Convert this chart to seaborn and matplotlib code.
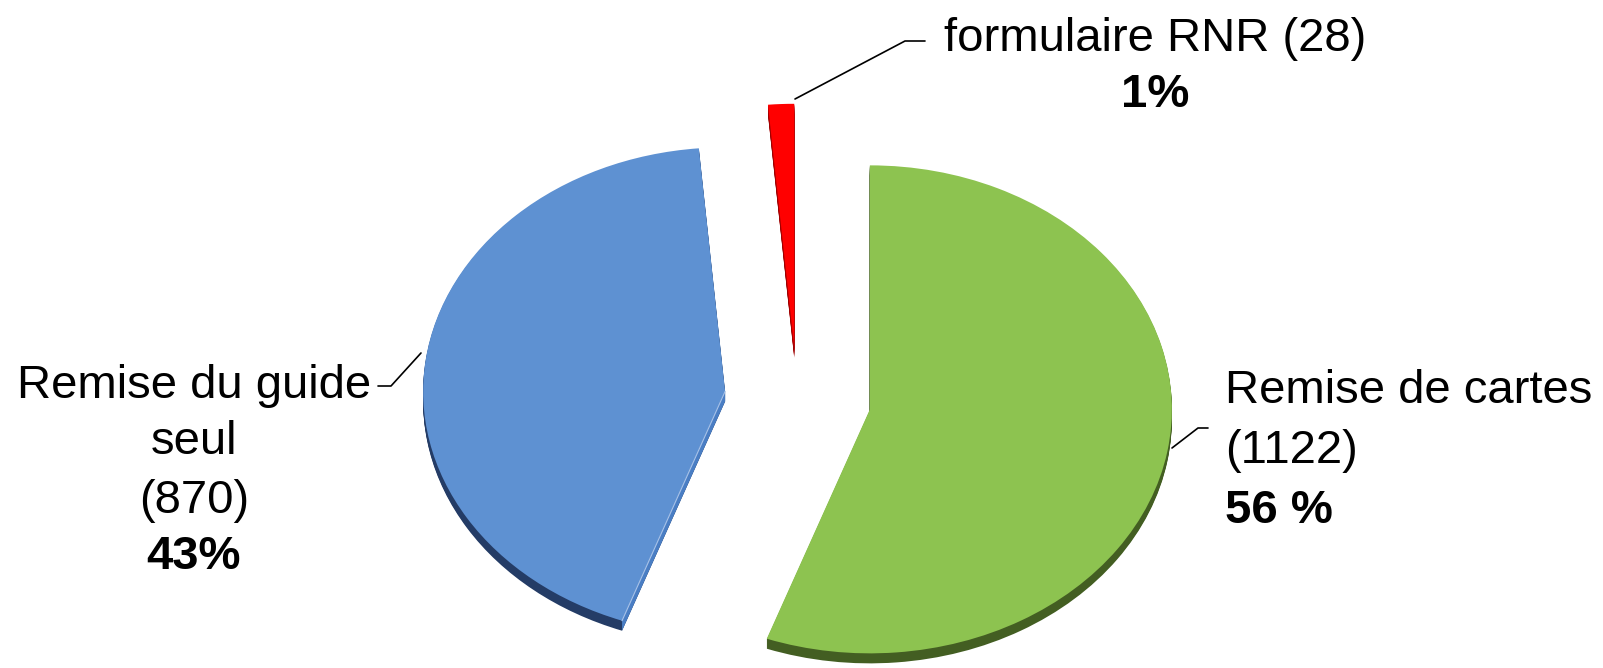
import numpy as np
import pandas as pd
import matplotlib
matplotlib.use('Agg')
import matplotlib.pyplot as plt
from matplotlib.patches import Polygon
import seaborn as sns

# ---- data ----
categories = ['Remise de cartes', 'Remise du guide seul', 'formulaire RNR']
counts = [1122, 870, 28]
count_labels = ['(1122)', '(870)', '(28)']
pct_labels = ['56 %', '43%', '1%']

# ---- style ----
colors = ['#8DC350', '#5E91D2', '#FF0000']
depth_colors = ['#435E22', '#243C66', '#A00000']
face_colors = ['#6E9A3A', '#4A7EC4', '#C00000']
explode = [0.245, 0.24, 0.21]

sns.set_theme(style='white')
plt.rcParams['font.family'] = ['Liberation Sans', 'DejaVu Sans']
plt.rcParams['text.color'] = 'black'

W, H = 1603, 668
RX, RY = 302, 244
fig = plt.figure(figsize=(W / 100, H / 100), dpi=100)
ax = fig.add_axes([0, 0, 1, 1])


def to_data(x, y):
    return x / RX, (H - y) / RY


cx, cy = to_data(797, 399)
depth_px = 10
for k in range(depth_px, 0, -1):
    ax.pie(counts, explode=explode, colors=depth_colors, startangle=90,
           counterclock=False, center=(cx, cy - k / RY), radius=1,
           wedgeprops=dict(linewidth=0))

top_wedges, _ = ax.pie(counts, explode=explode, colors=colors, startangle=90,
                       counterclock=False, center=(cx, cy), radius=1,
                       wedgeprops=dict(linewidth=0, zorder=3))

# visible cut face of the blue slice (its clockwise end edge)
w = top_wedges[1]
c = np.array(w.center)
ang = np.deg2rad(w.theta2 if abs(((w.theta2 + 180) % 360) - 180 + 110) < 5 else w.theta1)
e = c + w.r * np.array([np.cos(ang), np.sin(ang)])
d = np.array([0, depth_px / RY])
ax.add_patch(Polygon([c, e, e - d, c - d], closed=True, facecolor=face_colors[1],
                     edgecolor='none', zorder=2))
ax.plot([c[0], e[0]], [c[1], e[1]], color='#A9C4EA', lw=0.8, zorder=4)

ax.set_aspect('auto')
ax.set_xlim(0, W / RX)
ax.set_ylim(0, H / RY)
ax.axis('off')

fs = 34
# top label (formulaire RNR)
ax.text(*to_data(1155, 39), f'{categories[2]} {count_labels[2]}', ha='center',
        va='center', fontsize=fs, color='black')
ax.text(*to_data(1155, 95), pct_labels[2], ha='center', va='center',
        fontsize=fs, fontweight='bold', color='black')
# left label
left_lines = ['Remise du guide', 'seul', count_labels[1]]
for t, y in zip(left_lines, [386, 442, 501]):
    ax.text(*to_data(194, y), t, ha='center', va='center', fontsize=fs, color='black')
ax.text(*to_data(194, 557), pct_labels[1], ha='center', va='center',
        fontsize=fs, fontweight='bold', color='black')
# right label
ax.text(*to_data(1225, 391), categories[0], ha='left', va='center', fontsize=fs, color='black')
ax.text(*to_data(1225, 451), count_labels[0], ha='left', va='center', fontsize=fs, color='black')
ax.text(*to_data(1225, 511), pct_labels[0], ha='left', va='center',
        fontsize=fs, fontweight='bold', color='black')

# leader lines
for pts in ([(795, 99), (905, 41), (925, 41)],
            [(421, 353), (391, 386), (378, 386)],
            [(1172, 448), (1198, 428), (1208, 428)]):
    xs, ys = zip(*[to_data(x, y) for x, y in pts])
    ax.plot(xs, ys, color='black', lw=1.2, zorder=5)

fig.savefig('out.png', dpi=100, facecolor='white')
